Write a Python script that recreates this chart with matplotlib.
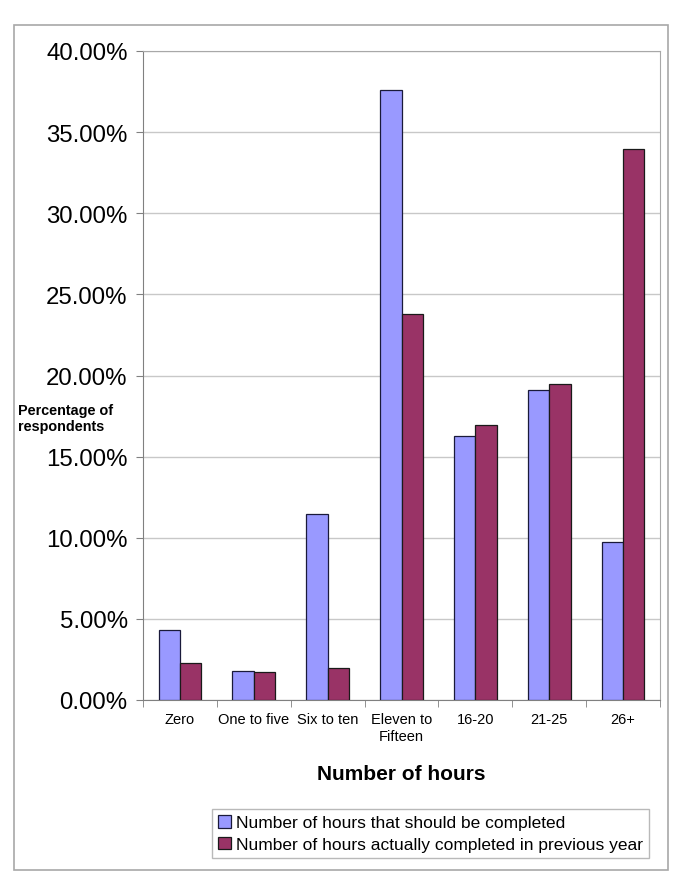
import numpy as np
import matplotlib
matplotlib.use("Agg")
import matplotlib.pyplot as plt
import matplotlib.patches as mpatches
from matplotlib.ticker import FuncFormatter, FixedLocator

plt.rcParams['font.family'] = ['Liberation Sans', 'DejaVu Sans']

# Data
categories = ["Zero", "One to five", "Six to ten", "Eleven to\nFifteen", "16-20", "21-25", "26+"]
should_complete = [4.30, 1.77, 11.45, 37.60, 16.25, 19.10, 9.72]
actually_completed = [2.26, 1.71, 2.00, 23.80, 16.93, 19.47, 33.96]
series_labels = ["Number of hours that should be completed",
                 "Number of hours actually completed in previous year"]

blue = "#9999FF"
maroon = "#993366"

fig = plt.figure(figsize=(6.85, 8.87), dpi=100)

# Outer chart frame
frame = mpatches.Rectangle((14 / 685, 1 - 871 / 887), (668 - 14) / 685, (871 - 26) / 887,
                           transform=fig.transFigure, fill=False, edgecolor="#a8a8a8", linewidth=1.2)
fig.patches.append(frame)

ax = fig.add_axes([143 / 685, 1 - 701 / 887, (660 - 143) / 685, (701 - 52) / 887])

x = np.arange(len(categories))
width = 0.29
ax.bar(x - width / 2, should_complete, width, color=blue, edgecolor="#1a1a3a", linewidth=0.9,
       label=series_labels[0], zorder=3)
ax.bar(x + width / 2, actually_completed, width, color=maroon, edgecolor="#1a1a1a", linewidth=0.9,
       label=series_labels[1], zorder=3)

ax.set_xlim(-0.5, len(categories) - 0.5)
ax.set_ylim(0, 40)
ax.set_yticks(np.arange(0, 41, 5))
ax.yaxis.set_major_formatter(FuncFormatter(lambda v, p: "%.2f%%" % v))
ax.grid(axis="y", color="#c8c8c8", linewidth=1, zorder=0)

ax.set_xticks(x)
ax.set_xticklabels(categories, fontsize=10.5)
ax.tick_params(axis="x", length=0, pad=9)
ax.xaxis.set_minor_locator(FixedLocator(np.arange(-0.5, len(categories), 1)))
ax.tick_params(axis="x", which="minor", length=5, color="#808080")
ax.tick_params(axis="y", labelsize=17.3, length=5, color="#808080", pad=6)

for side in ["left", "bottom", "top", "right"]:
    ax.spines[side].set_color("#808080")
ax.spines["top"].set_color("#a8a8a8")
ax.spines["right"].set_color("#a8a8a8")

fig.text(18 / 685, 1 - 419 / 887, "Percentage of\nrespondents", fontsize=10.4, fontweight="bold",
         ha="left", va="center", linespacing=1.25)
fig.text(401 / 685, 1 - 775 / 887, "Number of hours", fontsize=15, fontweight="bold",
         ha="center", va="center")

leg = fig.legend(loc="upper left", bbox_to_anchor=(212 / 685, 1 - 810 / 887), fontsize=12.5,
                 frameon=True, fancybox=False, edgecolor="#a8a8a8", handlelength=0.75,
                 handleheight=0.75, handletextpad=0.3, borderpad=0.35, labelspacing=0.35,
                 borderaxespad=0)
leg.get_frame().set_linewidth(1)

fig.savefig("out.png", dpi=100)
